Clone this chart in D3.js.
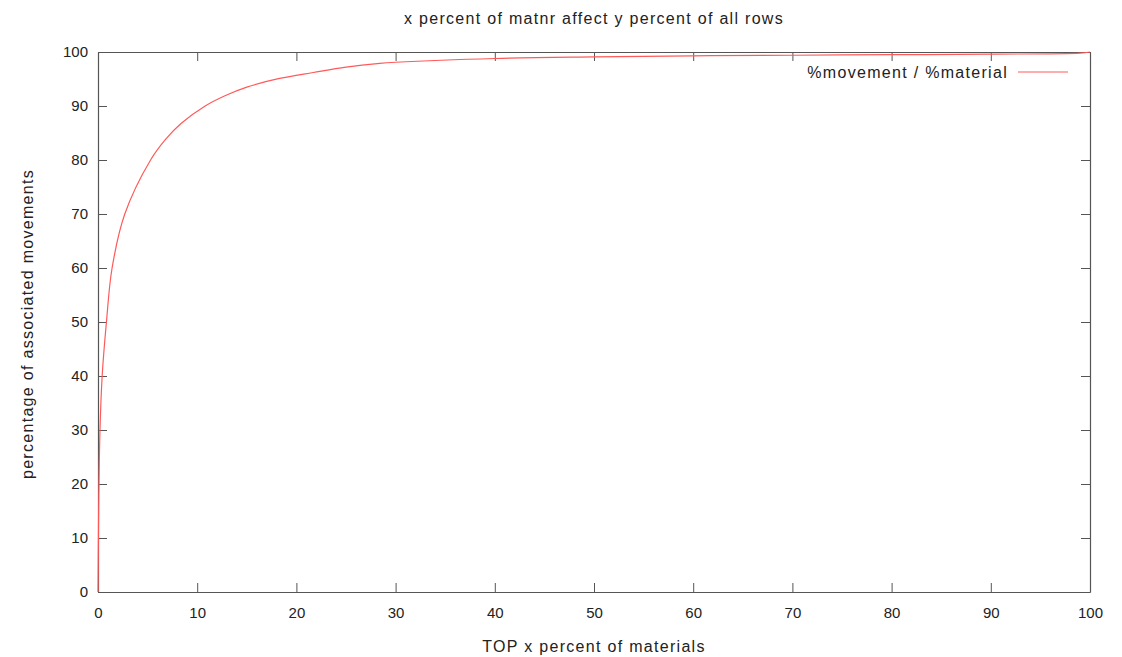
<!DOCTYPE html>
<html>
<head>
<meta charset="UTF-8">
<script src="https://d3js.org/d3.v7.min.js"></script>
<style>
  body { margin: 0; background: #fff; font-family: "Liberation Sans", Arial, sans-serif; }
  svg text { fill: #222; }
  .axis path, .axis line { stroke: #555; }
  .axis text { font-size: 15px; fill: #222; }
  .label { font-size: 16px; letter-spacing: 1.3px; }
</style>
</head>
<body>
<div id="chart"></div>
<script>
// curve: top x percent of materials -> percent of movements
const pctMaterials = [0, 0.05, 0.1, 0.2, 0.42, 0.85, 1.42, 2.7, 5.3, 6.85, 8.4, 10.8, 12.8, 15, 18.3, 21.7, 25, 28.4, 30, 40, 50, 60, 70, 80, 90, 99, 100];
const pctMovements = [0, 12, 20, 30, 40, 50, 60, 70, 80, 83.9, 86.8, 90, 91.9, 93.5, 95.1, 96.2, 97.2, 97.9, 98.1, 98.8, 99.1, 99.3, 99.4, 99.5, 99.6, 99.8, 100];
const xTicks = [0, 10, 20, 30, 40, 50, 60, 70, 80, 90, 100];
const yTicks = [0, 10, 20, 30, 40, 50, 60, 70, 80, 90, 100];

const width = 1122, height = 657;
const margin = { top: 52, right: 32, bottom: 65, left: 98 };
const innerW = width - margin.left - margin.right;
const innerH = height - margin.top - margin.bottom;

const svg = d3.select('#chart').append('svg')
  .attr('width', width)
  .attr('height', height);

const g = svg.append('g')
  .attr('transform', `translate(${margin.left},${margin.top})`);

const x = d3.scaleLinear().domain([0, 100]).range([0, innerW]);
const y = d3.scaleLinear().domain([0, 100]).range([innerH, 0]);

// gnuplot style: inward ticks, mirrored on all four sides
g.append('g').attr('class', 'axis')
  .attr('transform', `translate(0,${innerH})`)
  .call(d3.axisBottom(x).tickValues(xTicks).tickSize(-9).tickPadding(15).tickSizeOuter(0));
g.append('g').attr('class', 'axis')
  .call(d3.axisLeft(y).tickValues(yTicks).tickSize(-9).tickPadding(10).tickSizeOuter(0));
g.append('g').attr('class', 'axis')
  .call(d3.axisTop(x).tickValues(xTicks).tickSize(-9).tickSizeOuter(0).tickFormat(''));
g.append('g').attr('class', 'axis')
  .attr('transform', `translate(${innerW},0)`)
  .call(d3.axisRight(y).tickValues(yTicks).tickSize(-9).tickSizeOuter(0).tickFormat(''));

g.selectAll('.axis .domain').attr('stroke', '#444').attr('stroke-width', 1.2);

const line = d3.line()
  .x((d, i) => x(pctMaterials[i]))
  .y(d => y(d))
  .curve(d3.curveCatmullRom.alpha(0.5));

g.append('path')
  .datum(pctMovements)
  .attr('fill', 'none')
  .attr('stroke', '#ff5a5a')
  .attr('stroke-width', 1.2)
  .attr('d', line);

// legend
g.append('text')
  .attr('class', 'label')
  .attr('x', 910)
  .attr('y', 20)
  .attr('dy', '0.35em')
  .attr('text-anchor', 'end')
  .text('%movement / %material');
g.append('line')
  .attr('x1', 920).attr('x2', 970)
  .attr('y1', 20).attr('y2', 20)
  .attr('stroke', '#ff5a5a')
  .attr('stroke-width', 1.2);

// titles
svg.append('text')
  .attr('class', 'label')
  .attr('x', margin.left + innerW / 2)
  .attr('y', 18)
  .attr('dy', '0.35em')
  .attr('text-anchor', 'middle')
  .text('x percent of matnr affect y percent of all rows');

svg.append('text')
  .attr('class', 'label')
  .attr('x', margin.left + innerW / 2)
  .attr('y', 646)
  .attr('dy', '0.35em')
  .attr('text-anchor', 'middle')
  .text('TOP x percent of materials');

svg.append('text')
  .attr('class', 'label')
  .attr('transform', `translate(27,${margin.top + innerH / 2 + 2}) rotate(-90)`)
  .attr('dy', '0.35em')
  .attr('text-anchor', 'middle')
  .text('percentage of associated movements');
</script>
</body>
</html>
